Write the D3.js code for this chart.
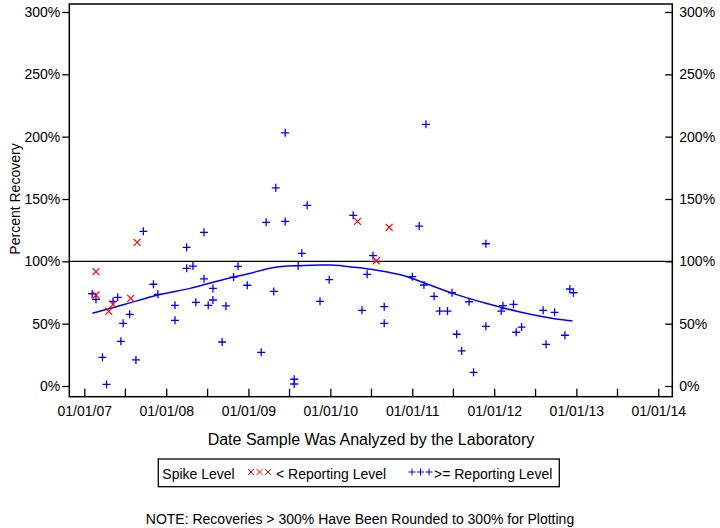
<!DOCTYPE html>
<html><head><meta charset="utf-8">
<script src="https://cdn.jsdelivr.net/npm/d3@7/dist/d3.min.js"></script>
<style>body{margin:0;background:#fff}svg{display:block}text{font-family:"Liberation Sans",Arial,sans-serif;fill:#000}</style>
</head><body>
<script>
// >= Reporting Level (blue +)
const geDates = ["2007-02-05","2007-02-22","2007-03-23","2007-04-10","2007-05-09","2007-05-30","2007-06-13","2007-06-23","2007-07-22","2007-08-19","2007-09-21","2007-11-05","2007-11-25","2008-02-09","2008-02-09","2008-04-01","2008-04-01","2008-04-29","2008-05-12","2008-06-17","2008-06-17","2008-07-06","2008-07-27","2008-07-27","2008-09-06","2008-09-23","2008-10-27","2008-11-16","2008-12-27","2009-02-27","2009-03-21","2009-04-24","2009-05-03","2009-06-14","2009-06-14","2009-07-24","2009-07-24","2009-08-11","2009-08-27","2009-09-20","2009-11-16","2009-12-27","2010-04-13","2010-05-22","2010-06-14","2010-07-10","2010-08-29","2010-08-29","2011-01-01","2011-02-01","2011-02-22","2011-03-03","2011-04-08","2011-05-03","2011-06-07","2011-06-27","2011-07-18","2011-08-09","2011-09-11","2011-10-01","2011-11-25","2011-11-25","2012-02-01","2012-02-09","2012-03-27","2012-04-08","2012-05-02","2012-08-06","2012-08-19","2012-09-26","2012-11-11","2012-12-03","2012-12-19"];
const geValues = [74,69.5,23,1.3,67.9,71.1,35.8,50.3,57.5,20.9,124.1,81.6,73.5,64.7,52.7,111.2,94.4,96.2,67.1,123.3,86,64.7,78.3,69,35.3,64.2,87.4,96,80.8,27,131.3,75.9,159,203.1,132,5.4,1.6,96.5,106.4,144.9,67.9,85.3,136.9,60.7,89.6,104.5,63.6,50.3,87.7,128.3,81,209.9,71.9,60.1,60.1,74.8,41.5,28.1,67.6,11,114.1,47.9,60.1,64.4,65.5,43.1,47.3,60.7,33.4,59.1,40.7,77.8,74.8];
// < Reporting Level (red x)
const ltDates = ["2007-02-22","2007-02-22","2007-04-20","2007-05-09","2007-07-27","2007-08-24","2010-05-02","2010-07-25","2010-09-20"];
const ltValues = [91.7,73,59.9,65.5,70.3,115.2,132,100.5,127.2];
// trend line
const trendDates = ["2007-02-06","2007-07-01","2007-11-25","2008-04-20","2008-09-13","2009-01-01","2009-04-20","2009-08-08","2010-01-01","2010-04-20","2010-08-08","2010-11-25","2011-02-25","2011-07-01","2011-11-25","2012-04-20","2012-09-13","2012-12-15"];
const trendValues = [58.3,65.5,73,78.5,85.5,90.1,94.9,96.5,97,95.2,92.5,88.5,82.6,74.3,66.3,59.6,54.3,52.1];
const yTicks = [0,50,100,150,200,250,300];
const xTickLabels = ["01/01/07","01/01/08","01/01/09","01/01/10","01/01/11","01/01/12","01/01/13","01/01/14"];

const W=720,H=528;
const L=69.3,R=672.3,T=4,B=396.7;
const parse=d3.timeParse("%Y-%m-%d");
const x=d3.scaleTime().domain([new Date(2007,0,1),new Date(2014,0,1)]).range([84.3,658.3]);
const y=d3.scaleLinear().domain([0,300]).range([386,12]);

const svg=d3.select("body").append("svg").attr("width",W).attr("height",H);

// frame
svg.append("rect").attr("x",L).attr("y",T).attr("width",R-L).attr("height",B-T)
  .attr("fill","none").attr("stroke","#000").attr("stroke-width",1.5);

// left y axis (outward ticks)
const gl=svg.append("g").attr("transform",`translate(${L},0)`)
  .call(d3.axisLeft(y).tickValues(yTicks).tickFormat(d=>d+"%").tickSize(7).tickPadding(2));
// right y axis (inward ticks)
const gr=svg.append("g").attr("transform",`translate(${R},0)`)
  .call(d3.axisRight(y).tickValues(yTicks).tickFormat(d=>d+"%").tickSize(0).tickPadding(7));
gr.selectAll(".tick").append("line").attr("x1",-7).attr("x2",0).attr("stroke","#000");
// x axis (inward ticks, half-year)
const halfYears=d3.timeMonth.every(6).range(new Date(2007,0,1),new Date(2014,0,2));
const gx=svg.append("g").attr("transform",`translate(0,${B})`)
  .call(d3.axisBottom(x).tickValues(halfYears).tickSize(0).tickPadding(9)
    .tickFormat(d=>d.getMonth()===0?xTickLabels[d.getFullYear()-2007]:""));
gx.selectAll(".tick").append("line").attr("y1",-8).attr("y2",0).attr("stroke","#000");
[gl,gr,gx].forEach(g=>{
  g.select(".domain").remove();
  g.selectAll("text").attr("font-size",14).attr("font-family","Liberation Sans, Arial, sans-serif").attr("fill","#000");
  g.selectAll("line").attr("stroke","#000").attr("stroke-width",1.3);
});

// 100% reference line
svg.append("line").attr("x1",L).attr("x2",R).attr("y1",y(100)).attr("y2",y(100))
  .attr("stroke","#000").attr("stroke-width",1.3);

// trend line
const trend=trendDates.map((d,i)=>[parse(d),trendValues[i]]);
svg.append("path").datum(trend)
  .attr("d",d3.line().x(d=>x(d[0])).y(d=>y(d[1])).curve(d3.curveCatmullRom))
  .attr("fill","none").attr("stroke","#0000ff").attr("stroke-width",1.5);

const plus=(s)=>`M${-s},0H${s}M0,${-s}V${s}`;
const cross=(s)=>`M${-s},${-s}L${s},${s}M${-s},${s}L${s},${-s}`;

svg.append("g").selectAll("path").data(geDates.map((d,i)=>[parse(d),geValues[i]])).join("path")
  .attr("transform",d=>`translate(${x(d[0])},${y(d[1])})`).attr("d",plus(4))
  .attr("stroke","#0000ff").attr("stroke-width",1.3).attr("fill","none");
svg.append("g").selectAll("path").data(ltDates.map((d,i)=>[parse(d),ltValues[i]])).join("path")
  .attr("transform",d=>`translate(${x(d[0])},${y(d[1])})`).attr("d",cross(3.5))
  .attr("stroke","#ff0000").attr("stroke-width",1.2).attr("fill","none");

// axis titles
svg.append("text").attr("x",371).attr("y",445).attr("text-anchor","middle").attr("font-size",16)
  .text("Date Sample Was Analyzed by the Laboratory");
svg.append("text").attr("transform","translate(20,199) rotate(-90)").attr("text-anchor","middle").attr("font-size",14)
  .text("Percent Recovery");

// legend
const lg=svg.append("g");
lg.append("rect").attr("x",158.3).attr("y",459).attr("width",401).attr("height",27.7)
  .attr("fill","none").attr("stroke","#000").attr("stroke-width",1.3);
lg.append("text").attr("x",162.3).attr("y",479).attr("font-size",14).text("Spike Level");
[251,259.5,268].forEach(cx=>lg.append("path").attr("transform",`translate(${cx},472)`).attr("d",cross(3))
  .attr("stroke","#ff0000").attr("stroke-width",1).attr("fill","none"));
lg.append("text").attr("x",276).attr("y",479).attr("font-size",14).text("< Reporting Level");
[412,420.5,429].forEach(cx=>lg.append("path").attr("transform",`translate(${cx},472)`).attr("d",plus(3.5))
  .attr("stroke","#0000ff").attr("stroke-width",1).attr("fill","none"));
lg.append("text").attr("x",434).attr("y",479).attr("font-size",14).text(">= Reporting Level");

// note
svg.append("text").attr("x",360).attr("y",524).attr("text-anchor","middle").attr("font-size",14)
  .text("NOTE: Recoveries > 300% Have Been Rounded to 300% for Plotting");
</script>
</body></html>
